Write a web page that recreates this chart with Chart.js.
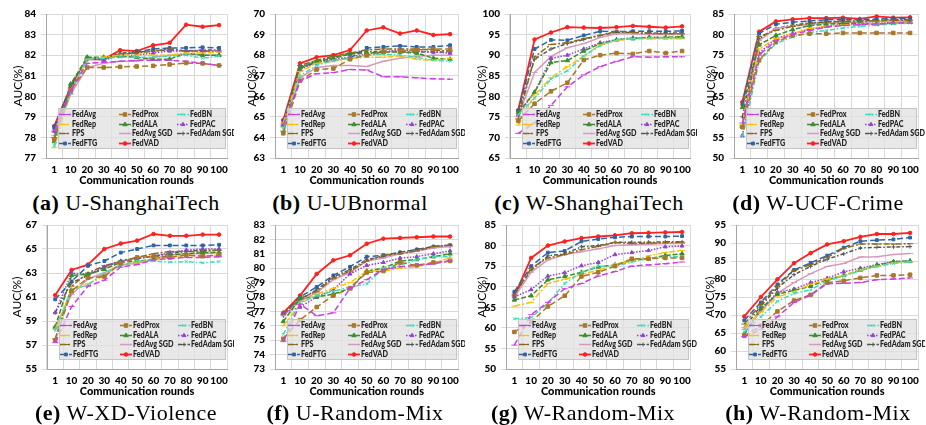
<!DOCTYPE html>
<html>
<head>
<meta charset="utf-8">
<script src="https://cdn.jsdelivr.net/npm/chart.js@4"></script>
<style>
  html, body { margin: 0; padding: 0; background: #fff; }
  body { position: relative; width: 926px; height: 425px; overflow: hidden; }
  canvas { position: absolute; }
  .cap {
    position: absolute;
    transform: translate(-50%, -50%);
    white-space: nowrap;
    font-family: "Liberation Serif", serif;
    font-size: 22px;
    letter-spacing: 0.5px;
    color: #000;
  }
</style>
</head>
<body>
<div id="root"></div>
<script>
const rounds = ["1", "10", "20", "30", "40", "50", "60", "70", "80", "90", "100"]
const methods = ["FedAvg", "FedProx", "FedBN", "FedRep", "FedALA", "FedPAC", "FPS", "FedAvg SGD", "FedAdam SGD", "FedFTG", "FedVAD"]

// values per panel, one row per method (same order as `methods`)
const uShanghaiTech = [
  [78.3, 80.3, 81.6, 81.65, 81.7, 81.75, 81.75, 81.75, 81.7, 81.6, 81.5],
  [77.9, 80.3, 81.4, 81.4, 81.43, 81.45, 81.48, 81.55, 81.62, 81.6, 81.5],
  [77.6, 80.2, 81.8, 81.85, 81.9, 81.9, 81.9, 81.95, 82.0, 81.85, 81.95],
  [77.5, 80.3, 81.8, 81.9, 82.0, 82.0, 82.0, 82.0, 82.1, 82.1, 82.15],
  [77.8, 80.6, 81.9, 81.9, 81.95, 81.9, 81.8, 81.8, 82.1, 82.0, 82.0],
  [78.3, 80.2, 81.9, 81.75, 82.0, 82.0, 82.1, 82.2, 82.2, 82.2, 82.2],
  [78.0, 80.4, 81.85, 81.8, 82.05, 82.1, 82.2, 82.3, 82.2, 82.2, 82.2],
  [78.1, 80.1, 81.4, 81.6, 81.7, 81.7, 81.9, 82.0, 82.05, 82.0, 82.0],
  [78.4, 80.4, 81.8, 81.8, 82.1, 82.15, 82.2, 82.25, 82.2, 82.25, 82.25],
  [78.5, 80.5, 81.85, 81.8, 82.0, 82.15, 82.3, 82.35, 82.35, 82.38, 82.35],
  [78.55, 80.45, 81.8, 81.8, 82.24, 82.2, 82.48, 82.6, 83.48, 83.38, 83.46]
]
const uUBnormal = [
  [64.6, 66.75, 67.1, 67.15, 67.3, 67.28, 66.95, 66.95, 66.9, 66.85, 66.83],
  [64.2, 66.75, 67.3, 67.35, 67.8, 68.0, 68.15, 68.2, 68.25, 68.3, 68.3],
  [64.4, 67.0, 67.5, 67.75, 67.85, 68.0, 68.05, 68.0, 67.9, 67.75, 67.7],
  [64.7, 67.2, 67.6, 67.7, 67.85, 67.9, 67.9, 67.95, 67.8, 67.75, 67.85],
  [64.6, 67.4, 67.7, 67.85, 68.05, 68.1, 68.15, 68.15, 68.1, 67.85, 67.8],
  [64.7, 67.3, 67.65, 67.8, 67.9, 68.05, 68.15, 68.25, 68.2, 68.15, 68.1],
  [64.3, 67.5, 67.75, 67.95, 68.1, 68.25, 68.3, 68.3, 68.3, 68.25, 68.2],
  [64.5, 66.9, 67.4, 67.5, 67.5, 67.45, 67.7, 67.85, 67.95, 68.0, 68.0],
  [64.7, 67.35, 67.7, 67.9, 68.1, 68.15, 68.2, 68.15, 68.15, 68.15, 68.15],
  [64.8, 67.45, 67.6, 67.75, 67.85, 68.35, 68.4, 68.45, 68.4, 68.4, 68.48],
  [64.85, 67.6, 67.9, 68.0, 68.25, 69.2, 69.35, 69.05, 69.2, 68.98, 69.02]
]
const wShanghaiTech = [
  [71.0, 73.5, 77.8, 82.3, 85.2, 87.2, 88.5, 89.6, 89.5, 89.6, 89.6],
  [74.0, 78.2, 81.2, 83.3, 88.8, 90.0, 90.5, 90.3, 91.0, 90.5, 91.0],
  [75.5, 79.5, 84.2, 86.2, 89.8, 92.3, 93.8, 94.0, 94.2, 94.2, 94.2],
  [73.0, 80.3, 84.5, 87.2, 89.8, 92.5, 93.5, 94.0, 94.0, 94.0, 94.0],
  [76.0, 81.0, 88.2, 88.7, 91.0, 92.8, 93.7, 94.0, 94.3, 94.3, 94.5],
  [75.5, 81.0, 89.2, 90.0, 91.5, 93.0, 93.8, 94.2, 94.3, 94.3, 94.3],
  [74.5, 89.6, 92.6, 93.0, 94.0, 94.8, 95.8, 95.5, 95.3, 95.2, 95.2],
  [75.0, 85.8, 89.7, 91.8, 92.8, 94.3, 95.2, 95.2, 95.0, 95.0, 95.0],
  [76.0, 89.0, 91.5, 92.8, 93.8, 94.8, 95.5, 95.5, 95.3, 95.4, 95.4],
  [76.5, 91.5, 93.7, 93.6, 94.8, 95.8, 95.7, 95.8, 95.8, 95.8, 95.9],
  [76.6, 93.8, 95.5, 96.8, 96.7, 96.6, 96.8, 97.1, 96.9, 96.7, 97.0]
]
const wUCFCrime = [
  [58.5, 75.0, 78.5, 80.0, 81.0, 81.8, 82.2, 82.4, 82.6, 82.8, 82.8],
  [57.5, 73.8, 78.2, 79.8, 80.2, 80.2, 80.4, 80.4, 80.4, 80.4, 80.4],
  [55.2, 73.5, 77.8, 79.4, 80.5, 81.0, 81.6, 82.0, 82.3, 82.6, 82.8],
  [58.0, 76.5, 79.0, 80.2, 81.5, 82.0, 82.3, 82.5, 82.7, 82.8, 82.9],
  [62.3, 77.5, 79.8, 81.2, 82.2, 82.5, 82.7, 82.8, 82.5, 82.8, 83.0],
  [55.5, 75.5, 79.0, 80.3, 81.3, 82.0, 82.5, 82.6, 82.8, 82.9, 83.0],
  [57.5, 79.5, 81.0, 82.0, 82.7, 83.0, 83.2, 83.2, 83.4, 83.5, 83.5],
  [58.0, 78.5, 81.5, 82.0, 82.5, 82.7, 83.0, 83.0, 83.2, 83.3, 83.3],
  [60.0, 79.0, 81.5, 82.3, 82.8, 83.1, 83.3, 83.3, 83.5, 83.6, 83.6],
  [63.0, 80.3, 82.5, 83.0, 83.3, 83.6, 83.7, 83.6, 83.8, 83.9, 83.9],
  [63.6, 80.7, 83.2, 83.7, 84.0, 84.0, 84.1, 83.8, 84.4, 84.1, 84.2]
]
const wXDViolence = [
  [57.2, 60.2, 61.9, 62.4, 63.5, 63.7, 64.1, 64.2, 64.3, 64.3, 64.35],
  [57.4, 61.5, 62.6, 62.7, 63.8, 64.3, 64.4, 64.3, 64.5, 64.4, 64.5],
  [58.2, 61.6, 62.0, 63.0, 63.6, 64.0, 64.0, 63.9, 63.95, 63.85, 63.95],
  [58.3, 61.6, 62.1, 62.8, 63.7, 63.9, 64.1, 64.3, 64.5, 64.4, 64.5],
  [58.5, 62.8, 62.9, 63.3, 63.9, 64.0, 64.1, 64.5, 64.6, 64.7, 64.7],
  [59.7, 63.0, 62.9, 63.5, 64.0, 64.2, 64.4, 64.7, 64.9, 65.0, 65.0],
  [57.5, 61.9, 63.0, 63.6, 64.0, 64.3, 64.6, 64.8, 64.8, 64.8, 64.9],
  [58.5, 61.2, 62.5, 63.0, 63.7, 63.8, 64.2, 64.5, 64.6, 64.6, 64.7],
  [59.7, 62.2, 62.8, 63.5, 64.0, 64.2, 64.4, 64.6, 64.8, 64.9, 64.9],
  [60.8, 62.3, 63.6, 64.0, 64.7, 65.0, 65.3, 65.3, 65.3, 65.3, 65.35],
  [61.15, 63.25, 63.7, 65.0, 65.45, 65.7, 66.25, 66.1, 66.1, 66.2, 66.2]
]
const uRandomMix = [
  [74.9, 77.5, 76.7, 76.9, 78.6, 79.2, 79.9, 80.1, 80.2, 80.3, 80.5],
  [75.1, 76.4, 77.3, 78.1, 78.6, 79.7, 79.8, 80.4, 80.2, 80.4, 80.5],
  [75.4, 77.6, 78.1, 78.4, 78.7, 78.9, 80.0, 80.2, 80.6, 80.8, 80.8],
  [76.0, 77.5, 78.2, 78.6, 79.0, 79.8, 79.8, 80.0, 80.1, 80.4, 80.7],
  [76.3, 77.9, 78.0, 78.2, 78.6, 79.8, 80.0, 80.5, 80.6, 80.8, 81.0],
  [76.9, 77.3, 78.0, 78.5, 79.6, 80.2, 80.4, 80.7, 80.8, 81.0, 81.2],
  [76.8, 77.9, 78.4, 79.3, 79.8, 80.5, 80.9, 81.0, 81.2, 81.5, 81.6],
  [76.7, 77.7, 78.3, 79.2, 79.7, 80.5, 80.7, 81.0, 81.2, 81.4, 81.5],
  [76.7, 77.8, 78.5, 79.4, 79.9, 80.6, 80.8, 81.1, 81.3, 81.5, 81.55],
  [76.8, 78.0, 78.7, 79.5, 80.1, 80.8, 80.9, 81.1, 81.3, 81.5, 81.6],
  [76.9, 78.1, 79.6, 80.55, 80.9, 81.7, 82.05, 82.1, 82.15, 82.2, 82.2]
]
const wRandomMixG = [
  [55.8, 63.2, 66.2, 69.5, 70.8, 72.6, 73.7, 75.0, 75.3, 75.6, 76.0],
  [59.0, 61.5, 65.2, 67.8, 72.5, 73.5, 75.0, 76.8, 76.8, 77.0, 77.0],
  [62.2, 62.5, 66.0, 70.8, 73.5, 75.0, 75.0, 76.0, 76.8, 77.3, 77.3],
  [65.3, 66.2, 70.8, 71.8, 73.0, 74.0, 75.5, 76.2, 77.5, 78.3, 78.8],
  [66.8, 67.8, 71.7, 72.5, 73.5, 74.8, 75.3, 76.5, 76.8, 77.6, 78.0],
  [67.5, 69.3, 72.6, 73.4, 75.1, 75.9, 77.8, 78.3, 78.8, 79.7, 79.9],
  [68.0, 74.5, 77.0, 77.8, 79.0, 79.8, 80.7, 80.5, 80.6, 80.7, 80.8],
  [67.5, 73.5, 76.5, 77.8, 78.5, 79.2, 80.0, 80.2, 80.3, 80.5, 80.5],
  [68.3, 74.0, 77.5, 78.0, 79.7, 80.0, 80.8, 80.8, 80.8, 80.9, 80.9],
  [68.8, 75.0, 78.3, 78.7, 81.0, 81.6, 82.0, 82.2, 82.2, 82.2, 82.3],
  [67.7, 77.0, 80.0, 81.0, 81.8, 82.2, 82.5, 83.0, 83.1, 83.2, 83.3]
]
const wRandomMixH = [
  [64.0, 66.0, 69.5, 73.5, 75.5, 78.7, 78.8, 79.0, 79.8, 80.0, 80.3],
  [64.2, 67.0, 71.0, 74.0, 75.6, 79.0, 79.5, 80.3, 81.0, 81.0, 81.2],
  [65.3, 69.5, 73.8, 76.0, 77.0, 79.5, 80.8, 82.3, 83.5, 84.3, 84.8],
  [66.5, 70.8, 75.0, 76.5, 78.5, 80.0, 81.0, 82.5, 83.5, 84.5, 84.8],
  [64.8, 71.8, 75.8, 76.8, 78.0, 79.8, 81.0, 82.5, 83.8, 84.8, 85.0],
  [64.5, 71.5, 76.3, 77.2, 79.0, 80.2, 82.0, 83.0, 84.0, 84.8, 85.0],
  [67.5, 73.0, 78.0, 82.3, 84.0, 86.0, 88.5, 89.7, 89.7, 89.7, 89.8],
  [66.0, 71.0, 76.0, 79.0, 81.5, 83.5, 84.3, 86.1, 86.2, 86.8, 87.1],
  [66.5, 72.5, 77.5, 81.2, 83.5, 85.5, 87.0, 88.6, 88.8, 88.9, 89.0],
  [68.5, 73.5, 78.5, 82.5, 84.5, 86.5, 88.7, 90.5, 90.8, 91.0, 91.5],
  [69.6, 75.0, 79.9, 84.4, 87.2, 89.6, 90.5, 91.7, 92.5, 92.5, 92.8]
]

const seriesStyle = [
  { color: "#cc3fe6", dash: [6, 3], point: "line", r: 3 },
  { color: "#a8782a", dash: [6, 3], point: "rect", r: 2.5 },
  { color: "#3fdcbc", dash: [5, 2, 1.5, 2], point: "crossRot", r: 2 },
  { color: "#ffc000", dash: [6, 2, 2, 2], point: "line", r: 3 },
  { color: "#3c8c28", dash: [5, 2], point: "triangle", r: 2.5 },
  { color: "#8e44d0", dash: [1.5, 1.5], point: "triangle", r: 2.2 },
  { color: "#8a6a1a", dash: [6, 2, 2, 2], point: "line", r: 3 },
  { color: "#d898b8", dash: [], point: "line", r: 3 },
  { color: "#555555", dash: [4, 2, 1.5, 2], point: "cross", r: 2 },
  { color: "#2d64a8", dash: [6, 3], point: "rect", r: 2 },
  { color: "#ff2020", dash: [], point: "circle", r: 1.8 }
]

const panels = [
  { tag: "(a)", name: "U-ShanghaiTech", values: uShanghaiTech, min: 77, max: 84, step: 1, left: 2, top: 0, width: 232, yWidth: 44, capX: 126 },
  { tag: "(b)", name: "U-UBnormal", values: uUBnormal, min: 63, max: 70, step: 1, left: 236, top: 0, width: 229, yWidth: 39, capX: 350 },
  { tag: "(c)", name: "W-ShanghaiTech", values: wShanghaiTech, min: 65, max: 100, step: 5, left: 466, top: 0, width: 231, yWidth: 44, capX: 589 },
  { tag: "(d)", name: "W-UCF-Crime", values: wUCFCrime, min: 50, max: 85, step: 5, left: 695, top: 0, width: 230, yWidth: 39, capX: 818 },
  { tag: "(e)", name: "W-XD-Violence", values: wXDViolence, min: 55, max: 67, step: 2, left: 1, top: 211, width: 233, yWidth: 46, capX: 126 },
  { tag: "(f)", name: "U-Random-Mix", values: uRandomMix, min: 73, max: 83, step: 1, left: 235, top: 211, width: 230, yWidth: 40, capX: 355 },
  { tag: "(g)", name: "W-Random-Mix", values: wRandomMixG, min: 50, max: 85, step: 5, left: 466, top: 211, width: 231, yWidth: 40, capX: 583 },
  { tag: "(h)", name: "W-Random-Mix", values: wRandomMixH, min: 55, max: 95, step: 5, left: 694, top: 211, width: 231, yWidth: 42, capX: 818 }
]

const gridColor = "#d9d9d9"
const axisColor = "#a6a6a6"
const labelFont = { family: "Lato", size: 10, weight: "900" }

Chart.defaults.animation = false
Chart.defaults.color = "#000"

const insetLegend = {
  id: "insetLegend",
  afterDatasetsDraw(chart) {
    const { ctx, chartArea } = chart
    const x0 = Math.round(chartArea.left + 12)
    const y0 = Math.round(chartArea.top + 94)
    const w = Math.round(chartArea.right - 1 - x0)
    const h = 41
    const colX = [1, 61, 119]

    ctx.save()
    ctx.fillStyle = "rgba(224, 224, 224, 0.75)"
    ctx.fillRect(x0, y0, w, h)
    ctx.strokeStyle = "#c4c4c4"
    ctx.lineWidth = 1
    ctx.strokeRect(x0 + 0.5, y0 + 0.5, w - 1, h - 1)

    chart.data.datasets.forEach((ds, i) => {
      const lx = x0 + colX[i % 3]
      const ly = Math.round(y0 + 6 + Math.floor(i / 3) * 9.7) + 0.5

      ctx.strokeStyle = ds.borderColor
      ctx.lineWidth = ds.borderWidth
      ctx.setLineDash(ds.borderDash)
      ctx.beginPath()
      ctx.moveTo(lx, ly)
      ctx.lineTo(lx + 12, ly)
      ctx.stroke()
      ctx.setLineDash([])

      ctx.fillStyle = ds.borderColor
      ctx.strokeStyle = ds.borderColor
      ctx.lineWidth = 1
      Chart.helpers.drawPoint(ctx, { pointStyle: ds.pointStyle, radius: ds.pointRadius, rotation: 0, borderWidth: 1 }, lx + 6, ly)

      // condensed text, closer to the narrow legend face of the original
      ctx.save()
      ctx.translate(lx + 13, ly)
      ctx.scale(0.8, 1)
      ctx.fillStyle = "#222"
      ctx.font = "900 9px Lato"
      ctx.textBaseline = "middle"
      ctx.fillText(methods[i], 0, 0)
      ctx.restore()
    })
    ctx.restore()
  }
}

const root = document.getElementById("root")

panels.forEach((p) => {
  const canvas = document.createElement("canvas")
  canvas.width = p.width
  canvas.height = 190
  canvas.style.left = p.left + "px"
  canvas.style.top = p.top + "px"
  root.appendChild(canvas)

  const cap = document.createElement("div")
  cap.className = "cap"
  cap.style.left = p.capX + "px"
  cap.style.top = (p.top ? 413 : 203) + "px"
  cap.innerHTML = "<b>" + p.tag + "</b> " + p.name
  root.appendChild(cap)

  const datasets = p.values.map((vals, i) => {
    const s = seriesStyle[i]
    return {
      label: methods[i],
      data: vals,
      borderColor: s.color,
      backgroundColor: s.color,
      pointBackgroundColor: s.color,
      pointBorderColor: s.color,
      borderWidth: i === 10 ? 1.8 : 1.5,
      borderDash: s.dash,
      pointStyle: s.point,
      pointRadius: s.r,
      pointBorderWidth: 1,
      tension: 0
    }
  })

  new Chart(canvas, {
    type: "line",
    data: { labels: rounds, datasets },
    options: {
      responsive: false,
      devicePixelRatio: 1,
      layout: { padding: { top: 14, right: 0, bottom: 0, left: 0 } },
      plugins: { legend: { display: false }, tooltip: { enabled: false } },
      scales: {
        x: {
          offset: true,
          grid: { color: gridColor, drawTicks: false, offset: true },
          border: { color: axisColor },
          ticks: { font: labelFont, padding: 6, maxRotation: 0, autoSkip: false },
          title: { display: true, text: "Communication rounds", font: { family: "Lato", size: 11, weight: "900" }, padding: { top: 0, bottom: 3 } },
          afterFit: (scale) => { scale.height = 32 }
        },
        y: {
          min: p.min,
          max: p.max,
          grid: { color: gridColor, tickLength: 5 },
          border: { color: axisColor },
          ticks: { stepSize: p.step, font: labelFont, padding: 5, autoSkip: false },
          title: { display: true, text: "AUC(%)", font: { family: "Lato", size: 12 }, padding: { top: 9, bottom: 0 } },
          afterFit: (scale) => { scale.width = p.yWidth }
        }
      }
    },
    plugins: [insetLegend]
  })
})
</script>
</body>
</html>
